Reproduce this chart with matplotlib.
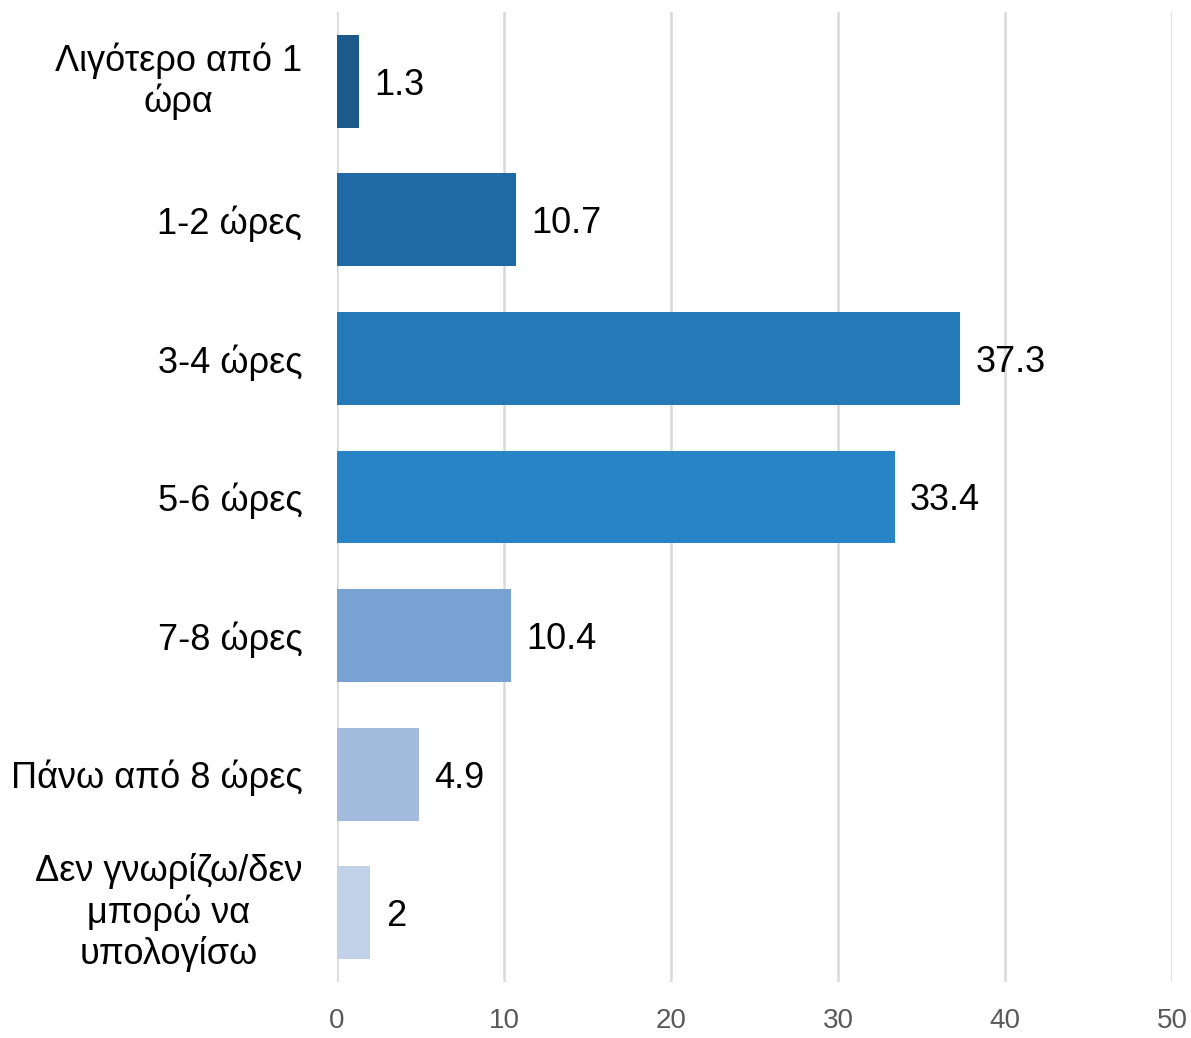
import matplotlib
matplotlib.use("Agg")
import matplotlib.pyplot as plt

categories = ["Λιγότερο από 1\nώρα", "1-2 ώρες", "3-4 ώρες", "5-6 ώρες", "7-8 ώρες",
              "Πάνω από 8 ώρες", "Δεν γνωρίζω/δεν\nμπορώ να\nυπολογίσω"]
values = [1.3, 10.7, 37.3, 33.4, 10.4, 4.9, 2]
value_labels = ["1.3", "10.7", "37.3", "33.4", "10.4", "4.9", "2"]
colors = ["#1C5A8C", "#1F6AA4", "#2479B7", "#2884C7", "#78A2D2", "#A3BBDC", "#C1D1E8"]
xticks = [0, 10, 20, 30, 40, 50]

plt.rcParams['font.family'] = ['Liberation Sans', 'DejaVu Sans']

fig = plt.figure(figsize=(11.91, 10.38), dpi=100)
ax = fig.add_axes([337/1191, 1-982/1038, (1172-337)/1191, (982-12)/1038])

y = list(range(len(categories)))
ax.barh(y, values, height=0.67, color=colors, zorder=3)
for yi, v, lab in zip(y, values, value_labels):
    ax.annotate(lab, (v, yi), xytext=(11, 0), textcoords="offset points",
                va="center_baseline", ha="left", fontsize=26, color="black")

ax.set_yticks(y)
ax.set_yticklabels(categories, fontsize=26, linespacing=1.19, ha="right",
                   multialignment="center")
for t, c in zip(ax.get_yticklabels(), categories):
    if "\n" in c:
        t.set_verticalalignment("center")
ax.tick_params(axis="y", length=0, pad=25)
ax.set_ylim(len(categories)-0.5, -0.5)
ax.set_xlim(0, 50)
ax.set_xticks(xticks)
ax.set_xticklabels([str(t) for t in xticks], fontsize=20, color="#595959")
ax.tick_params(axis="x", length=0, pad=19)
ax.grid(axis="x", color="#D9D9D9", linewidth=1.8, zorder=0)
for s in ax.spines.values():
    s.set_visible(False)

fig.savefig("out.png", dpi=100)
